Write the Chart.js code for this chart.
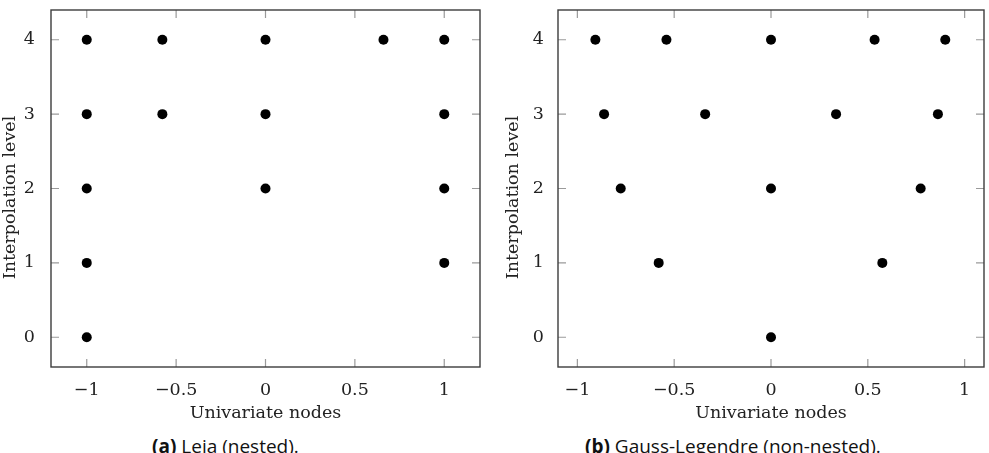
<!DOCTYPE html>
<html>
<head>
<meta charset="utf-8">
<script src="https://cdn.jsdelivr.net/npm/chart.js@4/dist/chart.umd.min.js"></script>
<style>
  html, body { margin: 0; padding: 0; background: #fff; width: 989px; height: 453px; overflow: hidden; }
  .wrap { position: absolute; top: 0; }
  .cap { position: absolute; top: 437px; font-family: "Open Sans", sans-serif; font-size: 19px; line-height: 19px; color: #111; white-space: nowrap; }
  .cap b { font-weight: 700; }
</style>
</head>
<body>
<div class="wrap" style="left:0px"><canvas id="c1" width="490" height="430"></canvas></div>
<div class="wrap" style="left:505px"><canvas id="c2" width="484" height="430"></canvas></div>
<div class="cap" style="left:152px"><b>(a)</b> Leja (nested).</div>
<div class="cap" style="left:585px"><b>(b)</b> Gauss-Legendre (non-nested).</div>
<script>
// ---- data ----
const levels = [0, 1, 2, 3, 4];
const lejaNodes = [
  [-1],
  [-1, 1],
  [-1, 1, 0],
  [-1, 1, 0, -0.577],
  [-1, 1, 0, -0.577, 0.66]
];
const gaussNodes = [
  [0],
  [-0.58, 0.575],
  [-0.776, 0, 0.773],
  [-0.862, -0.34, 0.336, 0.862],
  [-0.907, -0.54, 0, 0.535, 0.9]
];
const xTicks = [-1, -0.5, 0, 0.5, 1];
const yTicks = [0, 1, 2, 3, 4];
const xTitle = 'Univariate nodes';
const yTitle = 'Interpolation level';

function toPoints(nodes) {
  const pts = [];
  levels.forEach((lv, i) => nodes[i].forEach(x => pts.push({ x: x, y: lv })));
  return pts;
}
function fmt(v) { return v < 0 ? '\u2212' + Math.abs(v) : String(v); }

const serif = { family: '"DejaVu Serif", serif', size: 17.5 };

const framePlugin = {
  id: 'frameTicks',
  beforeDatasetsDraw(chart) {
    const { ctx, chartArea: a, scales } = chart;
    const L = 8;
    ctx.save();
    ctx.strokeStyle = '#9a9a9a';
    ctx.lineWidth = 1.2;
    ctx.beginPath();
    xTicks.forEach(v => {
      const px = scales.x.getPixelForValue(v);
      ctx.moveTo(px, a.bottom); ctx.lineTo(px, a.bottom - L);
      ctx.moveTo(px, a.top); ctx.lineTo(px, a.top + L);
    });
    yTicks.forEach(v => {
      const py = scales.y.getPixelForValue(v);
      ctx.moveTo(a.left, py); ctx.lineTo(a.left + L, py);
      ctx.moveTo(a.right, py); ctx.lineTo(a.right - L, py);
    });
    ctx.stroke();
    ctx.strokeStyle = '#3c3c3c';
    ctx.lineWidth = 1.4;
    ctx.strokeRect(a.left, a.top, a.right - a.left, a.bottom - a.top);
    ctx.restore();
  },
  afterDraw(chart, args, opts) {
    // y-axis title, drawn rotated beside the y scale
    const { ctx, chartArea: a, scales } = chart;
    const s = scales.y;
    ctx.save();
    ctx.font = '17.5px "DejaVu Serif", serif';
    ctx.fillStyle = '#222';
    ctx.textAlign = 'center';
    ctx.textBaseline = 'middle';
    ctx.translate(s.left + opts.titleX, (a.top + a.bottom) / 2 + 9);
    ctx.rotate(-Math.PI / 2);
    ctx.fillText(yTitle, 0, 0);
    ctx.restore();
  }
};

function makeChart(id, nodes, xMin, xMax, yAxisWidth, yTickPad, yTitleX, padRight) {
  return new Chart(document.getElementById(id), {
    type: 'scatter',
    data: {
      datasets: [{
        data: toPoints(nodes),
        backgroundColor: '#000',
        borderColor: '#000',
        borderWidth: 0,
        pointRadius: 5,
        pointHoverRadius: 5
      }]
    },
    options: {
      responsive: false,
      animation: false,
      events: [],
      layout: { padding: { top: 10, right: padRight, left: 0, bottom: 0 } },
      plugins: { legend: { display: false }, tooltip: { enabled: false }, frameTicks: { titleX: yTitleX } },
      scales: {
        x: {
          type: 'linear', min: xMin, max: xMax,
          afterBuildTicks: s => { s.ticks = xTicks.map(v => ({ value: v })); },
          afterFit: s => { s.height = 63; s.paddingLeft = 0; s.paddingRight = 0; },
          grid: { display: false },
          border: { display: false },
          ticks: { padding: 5, color: '#222', font: serif, callback: v => fmt(v), maxRotation: 0, autoSkip: false },
          title: { display: true, text: xTitle, color: '#222', font: { ...serif, lineHeight: 1 }, padding: { top: 0, bottom: 8.25 } }
        },
        y: {
          type: 'linear', min: -0.4, max: 4.4,
          afterBuildTicks: s => { s.ticks = yTicks.map(v => ({ value: v })); },
          afterFit: s => { s.width = yAxisWidth; s.paddingTop = 0; s.paddingBottom = 0; },
          grid: { display: false },
          border: { display: false },
          ticks: { padding: yTickPad, color: '#222', font: serif, callback: v => fmt(v), autoSkip: false },
          title: { display: false }
        }
      }
    },
    plugins: [framePlugin]
  });
}

makeChart('c1', lejaNodes, -1.2, 1.2, 51, 8, 10.5, 10);
makeChart('c2', gaussNodes, -1.1, 1.1, 53, 6, 8.75, 1);
</script>
</body>
</html>
